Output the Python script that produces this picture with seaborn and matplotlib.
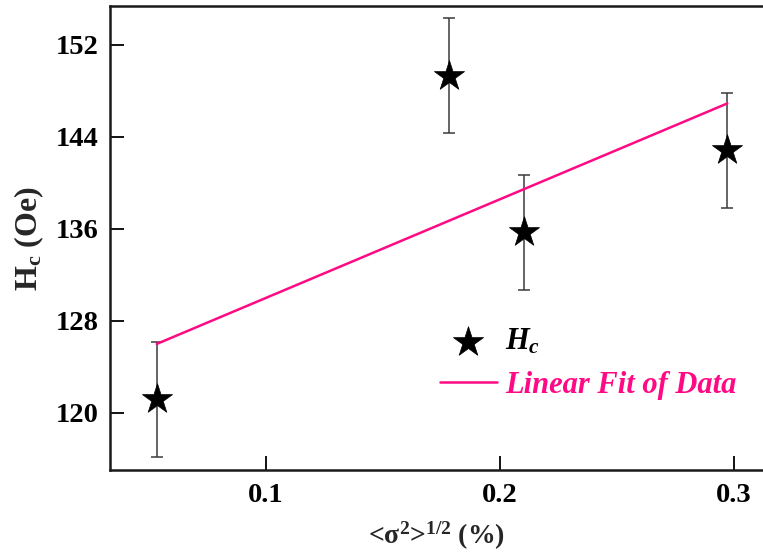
import numpy as np
import pandas as pd
import matplotlib
matplotlib.use("Agg")
import matplotlib.pyplot as plt
import seaborn as sns

# Microstrain vs coercivity
strain = [0.0533, 0.1782, 0.2101, 0.2971]     # <sigma^2>^(1/2) in %
hc = [121.16, 149.33, 135.70, 142.83]          # H_c in Oe
hc_err = [5.0, 5.0, 5.0, 5.0]
y_ticks = [120, 128, 136, 144, 152]
x_ticks = [0.1, 0.2, 0.3]

sns.set_theme(style="ticks")
plt.rcParams["font.family"] = ["Liberation Serif", "DejaVu Serif"]
plt.rcParams["font.weight"] = "bold"
plt.rcParams["mathtext.fontset"] = "custom"
plt.rcParams["mathtext.rm"] = "Liberation Serif:bold"
plt.rcParams["mathtext.bf"] = "Liberation Serif:bold"
plt.rcParams["mathtext.it"] = "Liberation Serif:italic:bold"

pink = "#ff0a84"

df = pd.DataFrame({"strain": strain, "hc": hc})
slope, intercept = np.polyfit(strain, hc, 1)
fit = pd.DataFrame({"strain": [strain[0], strain[-1]]})
fit["hc"] = slope * fit["strain"] + intercept

fig = plt.figure(figsize=(7.63, 5.53), dpi=100)
ax = fig.add_axes([0.1442, 0.1497, 0.8558, 0.8389])

ax.errorbar(strain, hc, yerr=hc_err, fmt="none", ecolor="#3a3a3a",
            elinewidth=1.1, capsize=4, capthick=1.1, zorder=2)
sns.lineplot(data=fit, x="strain", y="hc", ax=ax, color=pink, lw=1.8,
             label="Linear Fit of Data", zorder=3)
sns.scatterplot(data=df, x="strain", y="hc", ax=ax, marker="*", s=520,
                color="black", edgecolor="black", linewidth=0.5,
                label=r"$H_c$", zorder=4)

ax.set_xlim(0.0333, 0.3124)
ax.set_ylim(115.0, 155.35)
ax.set_xticks(x_ticks)
ax.set_xticklabels([f"{t:.1f}" for t in x_ticks])
ax.set_yticks(y_ticks)
ax.set_yticklabels([str(t) for t in y_ticks])
ax.tick_params(direction="in", length=10, width=1.3, colors="black",
               labelsize=20.5)
ax.tick_params(axis="y", pad=8)
ax.tick_params(axis="x", pad=9)
for lab in ax.get_xticklabels() + ax.get_yticklabels():
    lab.set_fontweight("bold")

for side in ["left", "bottom", "top"]:
    ax.spines[side].set_linewidth(1.8)
    ax.spines[side].set_color("#1a1a1a")
ax.spines["right"].set_visible(False)

ax.set_xlabel(r"<σ$^{\mathbf{2}}$>$^{\mathbf{1/2}}$ (%)", fontsize=20,
              fontweight="bold", labelpad=9)
ax.set_ylabel(r"H$_{\mathbf{c}}$ (Oe)", fontsize=23, fontweight="bold",
              labelpad=7)

handles, labels = ax.get_legend_handles_labels()
order = [labels.index(r"$H_c$"), labels.index("Linear Fit of Data")]
leg = ax.legend([handles[i] for i in order], [labels[i] for i in order],
                loc="upper left", bbox_to_anchor=(0.505, 0.308), frameon=False,
                borderaxespad=0, borderpad=0,
                handlelength=1.87, handletextpad=0.28,
                labelspacing=0.45, markerscale=1.0,
                prop={"family": "Liberation Serif", "weight": "bold",
                      "style": "italic", "size": 22})
for txt, col in zip(leg.get_texts(), ["black", pink]):
    txt.set_color(col)

fig.savefig("out.png", dpi=100)
